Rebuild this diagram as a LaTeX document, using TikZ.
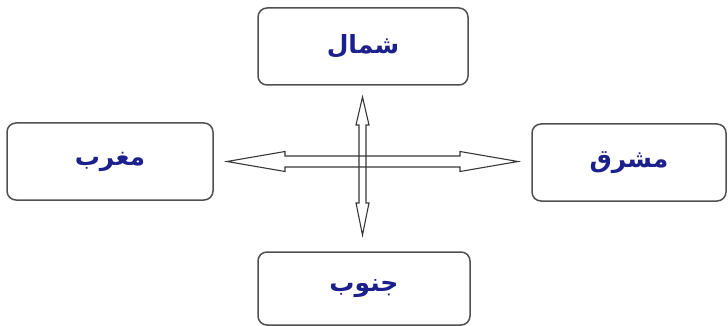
\documentclass[tikz,border=0pt]{standalone}
\usepackage{fontspec}
\newfontfamily\urdufont[Script=Arabic]{DejaVu Sans}
\TeXXeTstate=1
\definecolor{tinta}{RGB}{28,32,140}
\definecolor{borda}{RGB}{80,80,80}
\definecolor{seta}{RGB}{55,55,55}
\begin{document}
\begin{tikzpicture}[x=1pt, y=-1pt,
    caixa/.style={draw=borda, line width=1.5pt, rounded corners=9pt, fill=white,
                  inner sep=0pt, font=\urdufont\bfseries\fontsize{25}{28}\selectfont,
                  text=tinta},
    contorno/.style={draw=seta, line width=1.1pt, line join=miter}]
      \useasboundingbox (0,0) rectangle (728,326);
      % Caixas
      \node[caixa, minimum width=210pt, minimum height=77pt] (norte) at (363,46.5)  {\beginR شمال\endR};
      \node[caixa, minimum width=206pt, minimum height=77pt] (oeste) at (110,161.5) {\beginR مغرب\endR};
      \node[caixa, minimum width=194pt, minimum height=77pt] (leste) at (629,162.5) {\beginR مشرق\endR};
      \node[caixa, minimum width=212pt, minimum height=73pt] (sul)   at (364,288.5) {\beginR جنوب\endR};

      % Pontas das setas
      \coordinate (po) at (227,161.5);
      \coordinate (pl) at (518,161.5);
      \coordinate (pn) at (362.5,97);
      \coordinate (ps) at (362.5,235);

      % Seta horizontal
      \draw[contorno] (po) -- ++(58,-10) -- ++(0,4.5) -- ++(175,0) -- ++(0,-4.5)
                      -- (pl) -- ++(-58,10) -- ++(0,-4.5) -- ++(-175,0) -- ++(0,4.5) -- cycle;
      % Seta vertical
      \draw[contorno] (pn) -- ++(6.5,28) -- ++(-3,0) -- ++(0,78) -- ++(3,0)
                      -- (ps) -- ++(-6.5,-32) -- ++(3,0) -- ++(0,-78) -- ++(-3,0) -- cycle;

    \end{tikzpicture}
\end{document}
